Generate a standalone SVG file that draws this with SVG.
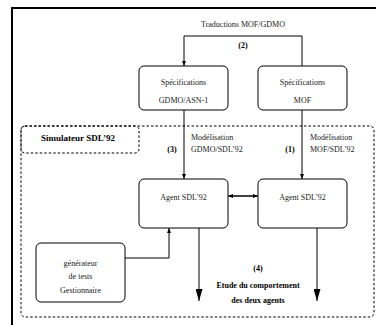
<svg xmlns="http://www.w3.org/2000/svg" width="376" height="325" viewBox="0 0 376 325">
<style>
text{font-family:"Liberation Serif","Times New Roman",serif;font-size:8px;fill:#222;text-anchor:middle}
.b{font-weight:bold;fill:#000}
.l{text-anchor:start}
.box{fill:#fff;stroke:#000;stroke-width:1}
.dash{fill:none;stroke:#000;stroke-width:1;stroke-dasharray:2.5,2}
.ln{fill:none;stroke:#000;stroke-width:1}
</style>
<defs>
<marker id="a" viewBox="0 0 10 10" refX="10" refY="5" markerWidth="5" markerHeight="5" orient="auto" markerUnits="userSpaceOnUse"><path d="M0,1 L10,5 L0,9 Z" fill="#000"/></marker>
<marker id="big" viewBox="0 0 10 10" refX="10" refY="5" markerWidth="12" markerHeight="7" orient="auto" markerUnits="userSpaceOnUse" preserveAspectRatio="none"><path d="M0,0 L10,5 L0,10 Z" fill="#000"/></marker>
</defs>
<rect width="376" height="325" fill="#fff"/>
<path d="M12,325 V8 H376" fill="none" stroke="#000" stroke-width="2"/>
<g id="simulateur">
<rect class="dash" x="21" y="126" width="353" height="191" rx="4"/>
<rect class="dash" x="21" y="126" width="118" height="27" rx="4"/>
<text class="b" x="78" y="141" style="font-size:9px">Simulateur SDL’92</text>
</g>
<g id="connectors">
<path class="ln" d="M302,66 V36 H184 V66" marker-end="url(#a)"/>
<path class="ln" d="M184,110 V179" marker-end="url(#a)"/>
<path class="ln" d="M302,110 V179" marker-end="url(#a)"/>
<path class="ln" d="M229,196 H258" marker-end="url(#a)"/>
<path class="ln" d="M257,196 H228" marker-end="url(#a)"/>
<path class="ln" d="M125,258 H169 V228" marker-end="url(#a)"/>
<path class="ln" d="M199,228 V301" marker-end="url(#big)"/>
<path class="ln" d="M317,228 V301" marker-end="url(#big)"/>
</g>
<g id="labels">
<text x="243" y="27">Traductions MOF/GDMO</text>
<text class="b" x="243" y="48">(2)</text>
<text class="l" x="191" y="140">Modélisation</text>
<text class="l" x="191" y="152">GDMO/SDL’92</text>
<text class="b" x="172" y="152">(3)</text>
<text class="l" x="310" y="140">Modélisation</text>
<text class="l" x="310" y="152">MOF/SDL’92</text>
<text class="b" x="290" y="152">(1)</text>
<text class="b" x="258" y="271">(4)</text>
<text class="b" x="258" y="288">Etude du comportement</text>
<text class="b" x="258" y="303">des deux agents</text>
</g>
<g id="spec-gdmo">
<rect class="box" x="139" y="66" width="89" height="44" rx="5"/>
<text x="183.5" y="85">Spécifications</text>
<text x="183.5" y="103">GDMO/ASN-1</text>
</g>
<g id="spec-mof">
<rect class="box" x="258" y="66" width="89" height="44" rx="5"/>
<text x="302.5" y="85">Spécifications</text>
<text x="302.5" y="103">MOF</text>
</g>
<g id="agent-left">
<rect class="box" x="139" y="179" width="89" height="49" rx="5"/>
<text x="183.5" y="200">Agent SDL’92</text>
</g>
<g id="agent-right">
<rect class="box" x="258" y="179" width="89" height="49" rx="5"/>
<text x="302.5" y="200">Agent SDL’92</text>
</g>
<g id="generateur">
<rect class="box" x="36" y="243" width="89" height="59" rx="5"/>
<text x="80.5" y="266">générateur</text>
<text x="80.5" y="279">de tests</text>
<text x="80.5" y="293">Gestionnaire</text>
</g>
</svg>
